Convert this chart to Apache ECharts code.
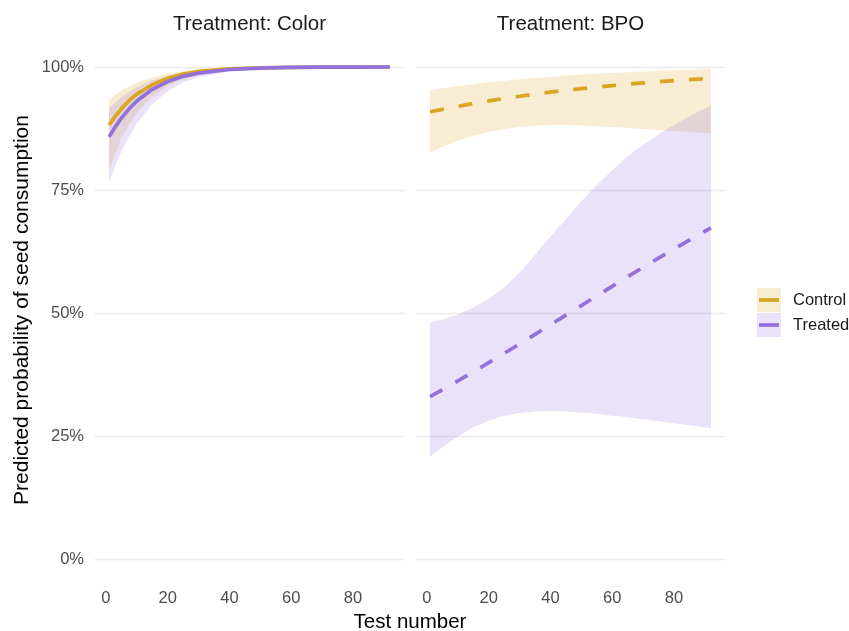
<!DOCTYPE html>
<html>
<head>
<meta charset="utf-8">
<script src="https://cdn.jsdelivr.net/npm/echarts@6/dist/echarts.min.js"></script>
<style>html,body{margin:0;padding:0;background:#fff;}#chart{width:849px;height:631px;}</style>
</head>
<body>
<div id="chart"></div>
<script>
// ---- Data ----
const panelTitles = ['Treatment: Color', 'Treatment: BPO'];
const groups = ['Control', 'Treated'];
const xTicks = [0, 20, 40, 60, 80];
const yTicks = [0, 0.25, 0.5, 0.75, 1];

const colorX = [1, 3, 5, 7.5, 10, 15, 20, 25, 30, 40, 50, 60, 70, 80, 92];
const colorControlFit = [0.882, 0.900, 0.915, 0.9315, 0.945, 0.964, 0.977, 0.9855, 0.991, 0.9963, 0.9985, 0.9994, 0.9998, 0.9999, 1.0];
const colorControlLo  = [0.791, 0.823, 0.856, 0.883, 0.906, 0.940, 0.962, 0.976, 0.985, 0.9936, 0.9973, 0.9989, 0.9996, 0.9998, 0.9999];
const colorControlHi  = [0.933, 0.943, 0.952, 0.961, 0.968, 0.979, 0.9865, 0.9913, 0.9945, 0.9979, 0.9992, 0.9997, 0.9999, 1.0, 1.0];
const colorTreatedFit = [0.858, 0.878, 0.896, 0.915, 0.931, 0.9546, 0.9704, 0.981, 0.9876, 0.9949, 0.9979, 0.9991, 0.9996, 0.99985, 0.99995];
const colorTreatedLo  = [0.767, 0.799, 0.8285, 0.8585, 0.885, 0.9245, 0.951, 0.9685, 0.979, 0.991, 0.996, 0.9984, 0.9993, 0.9997, 0.9999];
const colorTreatedHi  = [0.916, 0.928, 0.939, 0.950, 0.959, 0.973, 0.982, 0.988, 0.9926, 0.997, 0.9988, 0.9996, 0.9999, 1.0, 1.0];

const bpoX = [1, 5, 10, 15, 20, 25, 30, 35, 40, 45, 50, 55, 60, 65, 70, 75, 80, 85, 92];
const bpoControlFit = [0.909, 0.914, 0.920, 0.9258, 0.931, 0.9359, 0.9406, 0.9448, 0.9489, 0.9526, 0.956, 0.9592, 0.9622, 0.965, 0.9676, 0.970, 0.9722, 0.9743, 0.9769];
const bpoControlHi  = [0.953, 0.957, 0.961, 0.965, 0.969, 0.972, 0.975, 0.9775, 0.980, 0.9825, 0.985, 0.9865, 0.988, 0.9895, 0.991, 0.992, 0.9935, 0.9945, 0.996];
const bpoControlLo  = [0.825, 0.838, 0.850, 0.860, 0.868, 0.874, 0.878, 0.8805, 0.882, 0.882, 0.881, 0.8795, 0.878, 0.876, 0.874, 0.872, 0.870, 0.868, 0.865];
const bpoTreatedFit = [0.330, 0.344, 0.362, 0.380, 0.399, 0.418, 0.437, 0.4565, 0.476, 0.4956, 0.515, 0.5348, 0.554, 0.5736, 0.593, 0.6115, 0.630, 0.648, 0.673];
const bpoTreatedHi  = [0.480, 0.487, 0.497, 0.511, 0.529, 0.552, 0.582, 0.618, 0.655, 0.691, 0.727, 0.760, 0.790, 0.818, 0.842, 0.863, 0.882, 0.900, 0.921];
const bpoTreatedLo  = [0.208, 0.227, 0.249, 0.268, 0.281, 0.291, 0.297, 0.300, 0.301, 0.300, 0.298, 0.295, 0.291, 0.288, 0.284, 0.280, 0.276, 0.272, 0.266];

// ---- Styling ----
const GOLD = '#DAA520';
const PURPLE = '#9370DB';
const GOLD_FILL = 'rgba(218,165,32,0.2)';
const PURPLE_FILL = 'rgba(147,112,219,0.2)';
const FONT = '"Liberation Sans", Arial, Helvetica, sans-serif';

const chart = echarts.init(document.getElementById('chart'), null, {renderer: 'canvas'});

function band(gridIdx, xs, lo, hi, fill) {
  return {
    type: 'custom',
    xAxisIndex: gridIdx, yAxisIndex: gridIdx,
    silent: true, z: 1,
    data: xs.map((x, i) => [x, lo[i], hi[i]]),
    renderItem: function (params, api) {
      if (params.dataIndex !== 0) return null;
      const pts = [];
      for (let i = 0; i < xs.length; i++) pts.push(api.coord([xs[i], hi[i]]));
      for (let i = xs.length - 1; i >= 0; i--) pts.push(api.coord([xs[i], lo[i]]));
      return { type: 'polygon', shape: { points: pts }, style: { fill: fill, stroke: null } };
    }
  };
}
function line(gridIdx, xs, ys, color, dashed, name) {
  return {
    type: 'line', name: name,
    xAxisIndex: gridIdx, yAxisIndex: gridIdx,
    data: xs.map((x, i) => [x, ys[i]]),
    showSymbol: false, symbol: 'none', clip: false, z: 3,
    smooth: false,
    lineStyle: { color: color, width: 3.7, type: dashed ? [14, 15] : 'solid', cap: 'butt', join: 'round' }
  };
}

const gridLefts = [95, 416];
const xAxisCommon = {
  type: 'value', min: -3.55, max: 96.55,
  axisLine: { show: false }, axisTick: { show: false }, splitLine: { show: false },
  axisLabel: { customValues: xTicks, color: '#4d4d4d', fontSize: 16.5, fontFamily: FONT, margin: 31 }
};
const option = {
  animation: false,
  backgroundColor: '#fff',
  grid: gridLefts.map(l => ({ left: l, width: 309, top: 67, height: 492, containLabel: false })),
  xAxis: [0, 1].map(i => Object.assign({ gridIndex: i }, xAxisCommon)),
  yAxis: [0, 1].map(i => ({
    type: 'value', gridIndex: i, min: 0, max: 1, interval: 0.25,
    axisLine: { show: false }, axisTick: { show: false },
    splitLine: { show: true, lineStyle: { color: '#ebebeb', width: 1.3 } },
    axisLabel: { show: i === 0, color: '#4d4d4d', fontSize: 16.5, fontFamily: FONT, margin: 11,
      formatter: v => Math.round(v * 100) + '%' }
  })),
  series: [
    band(0, colorX, colorControlLo, colorControlHi, GOLD_FILL),
    band(0, colorX, colorTreatedLo, colorTreatedHi, PURPLE_FILL),
    line(0, colorX, colorControlFit, GOLD, false, groups[0]),
    line(0, colorX, colorTreatedFit, PURPLE, false, groups[1]),
    band(1, bpoX, bpoControlLo, bpoControlHi, GOLD_FILL),
    band(1, bpoX, bpoTreatedLo, bpoTreatedHi, PURPLE_FILL),
    line(1, bpoX, bpoControlFit, GOLD, true, groups[0]),
    line(1, bpoX, bpoTreatedFit, PURPLE, true, groups[1])
  ],
  graphic: [
    { type: 'text', x: 95 + 154.5, y: 24, style: { text: panelTitles[0], fill: '#1a1a1a', font: '20.5px ' + FONT, align: 'center', verticalAlign: 'middle' } },
    { type: 'text', x: 416 + 154.5, y: 24, style: { text: panelTitles[1], fill: '#1a1a1a', font: '20.5px ' + FONT, align: 'center', verticalAlign: 'middle' } },
    { type: 'text', x: 410, y: 622, style: { text: 'Test number', fill: '#000', font: '20.5px ' + FONT, align: 'center', verticalAlign: 'middle' } },
    { type: 'text', x: 22, y: 310, rotation: Math.PI / 2, style: { text: 'Predicted probability of seed consumption', fill: '#000', font: '21px ' + FONT, align: 'center', verticalAlign: 'middle' } },
    // legend keys
    { type: 'rect', shape: { x: 757, y: 288, width: 24, height: 24 }, style: { fill: GOLD_FILL } },
    { type: 'line', shape: { x1: 759, y1: 300, x2: 779, y2: 300 }, style: { stroke: GOLD, lineWidth: 3.7 } },
    { type: 'text', x: 793, y: 300, style: { text: groups[0], fill: '#1a1a1a', font: '16.5px ' + FONT, align: 'left', verticalAlign: 'middle' } },
    { type: 'rect', shape: { x: 757, y: 313, width: 24, height: 24 }, style: { fill: PURPLE_FILL } },
    { type: 'line', shape: { x1: 759, y1: 325, x2: 779, y2: 325 }, style: { stroke: PURPLE, lineWidth: 3.7 } },
    { type: 'text', x: 793, y: 325, style: { text: groups[1], fill: '#1a1a1a', font: '16.5px ' + FONT, align: 'left', verticalAlign: 'middle' } }
  ]
};
chart.setOption(option);
</script>
</body>
</html>
